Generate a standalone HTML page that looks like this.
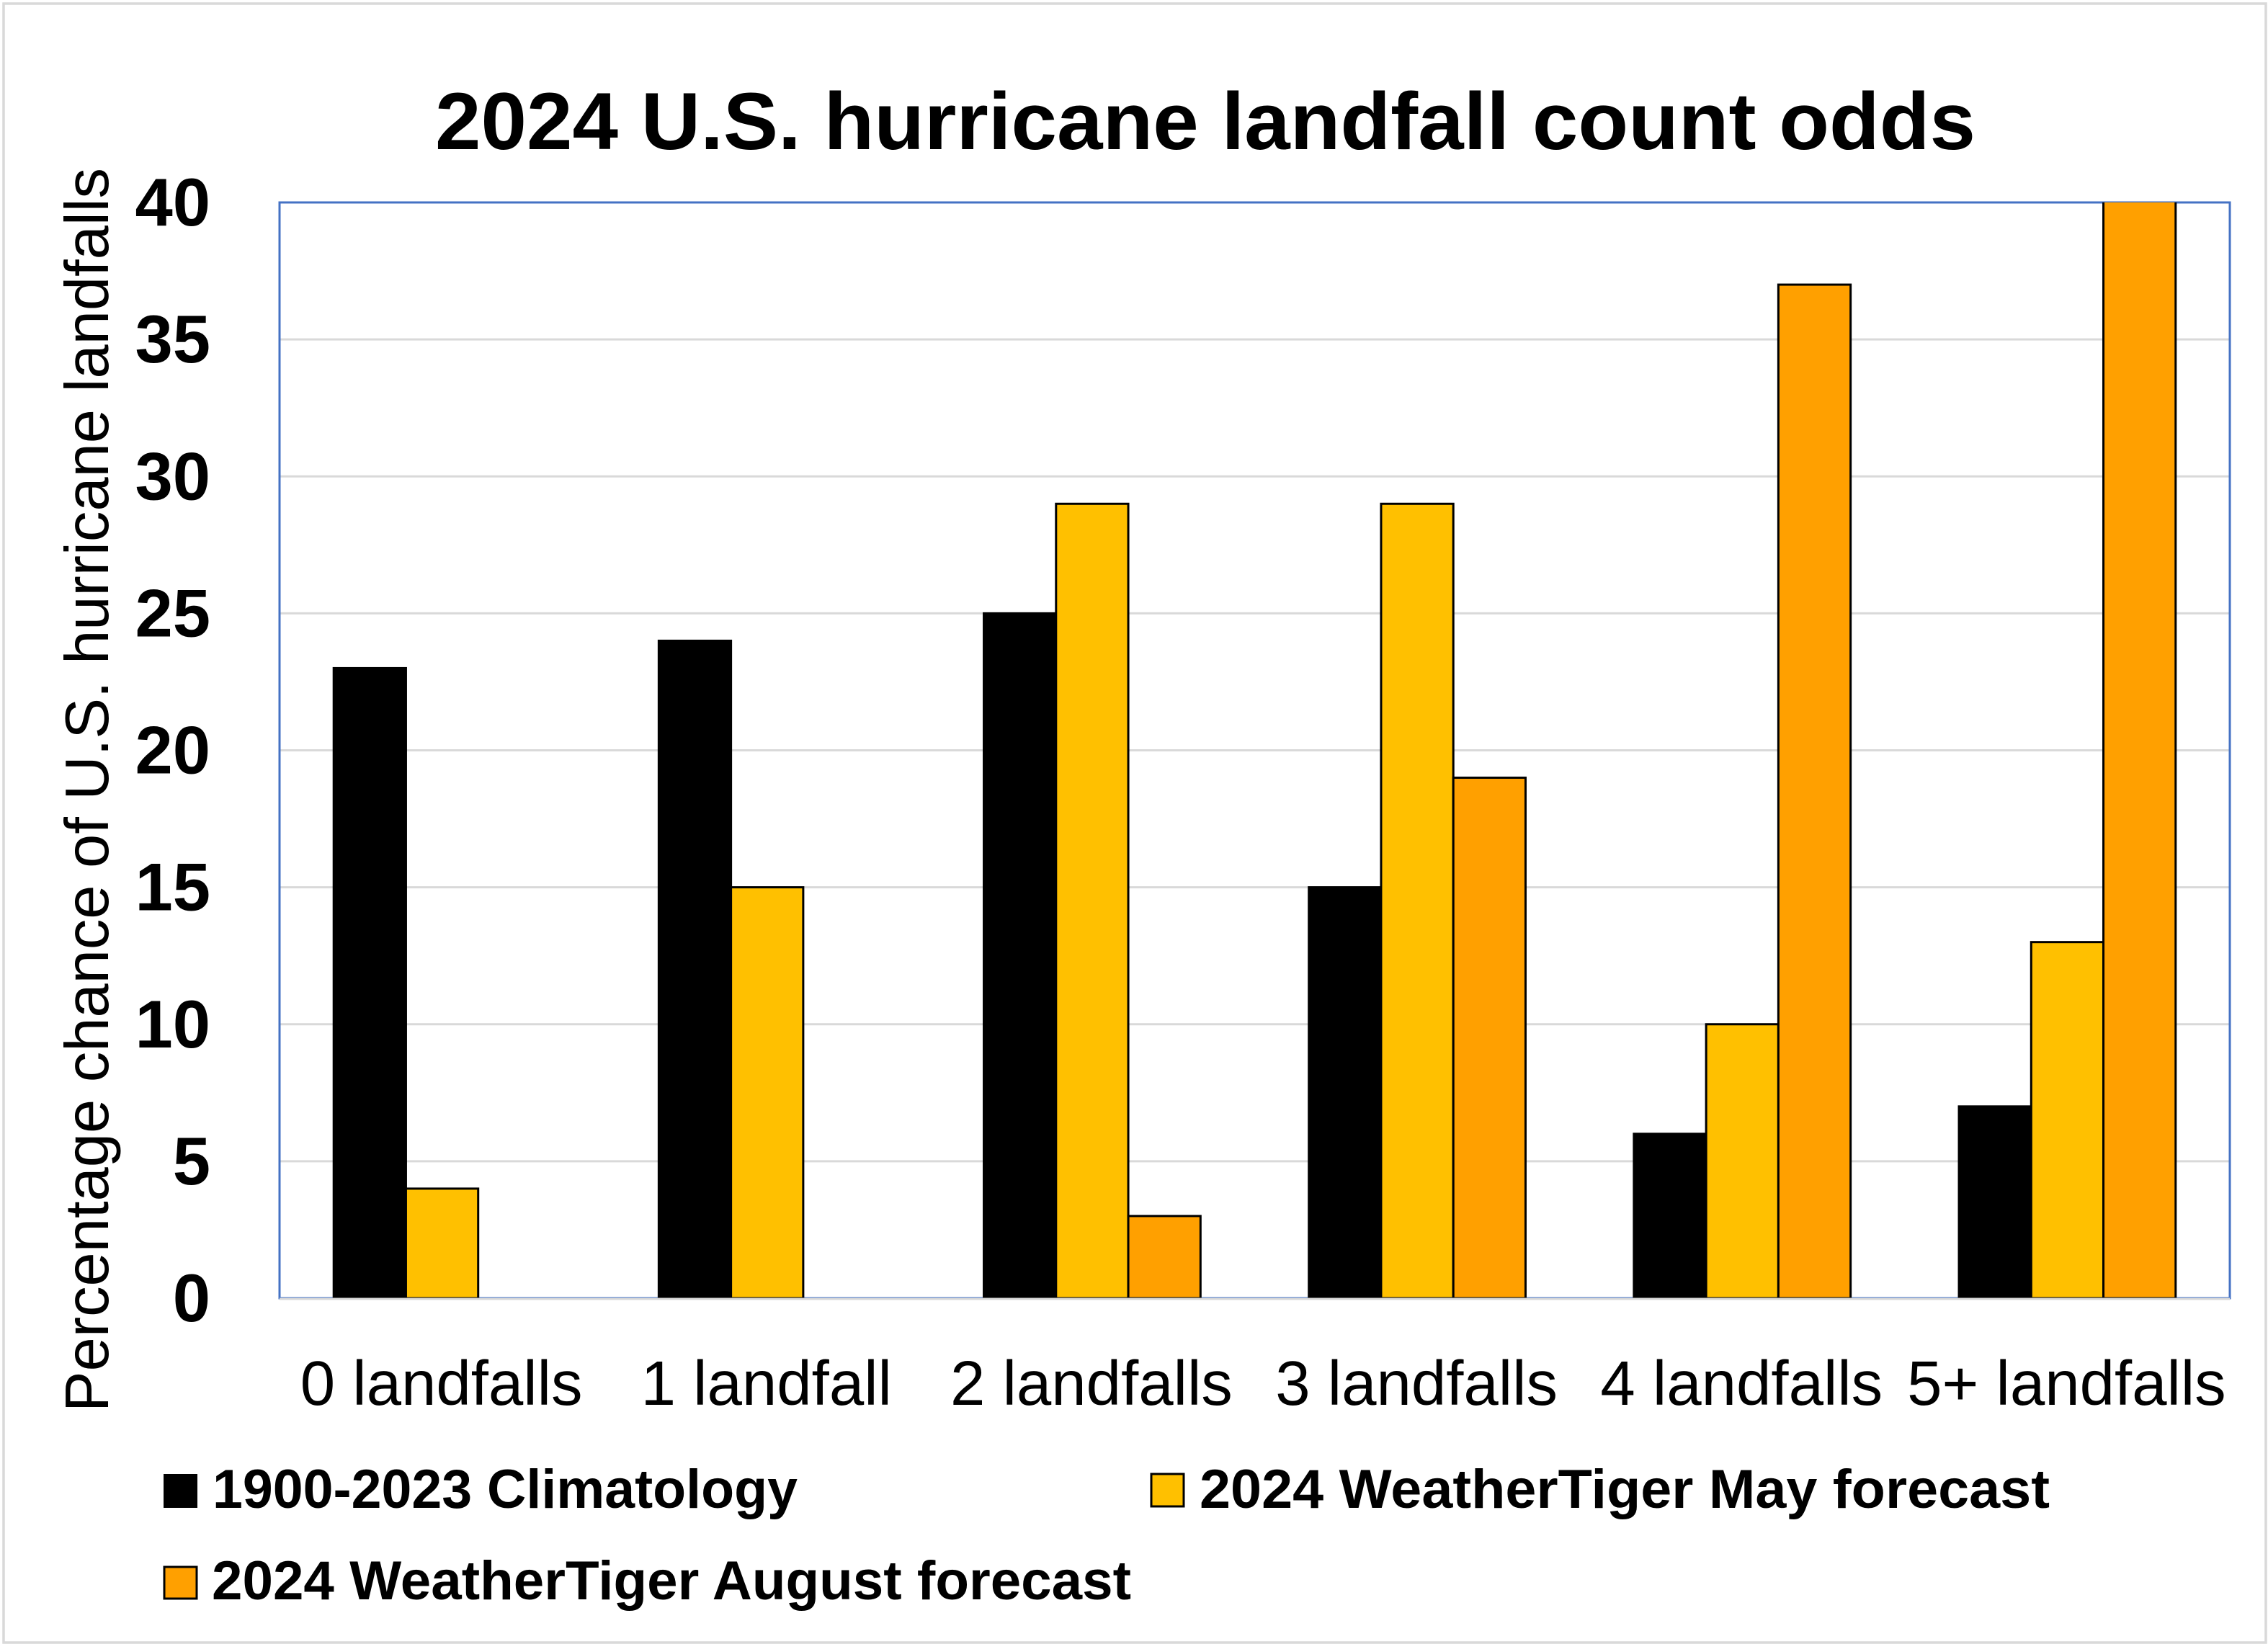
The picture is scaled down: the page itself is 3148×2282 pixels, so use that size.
<!DOCTYPE html>
<html lang="en">
<head>
<meta charset="utf-8">
<title>2024 U.S. hurricane landfall count odds</title>
<style>
html,body{margin:0;padding:0;background:#fff;}
svg{display:block;}
text{font-family:"Liberation Sans",sans-serif;fill:#000;}
</style>
</head>
<body>
<svg id="chart" xmlns="http://www.w3.org/2000/svg" width="3148" height="2282" viewBox="0 0 3148 2282">
  <rect x="0" y="0" width="3148" height="2282" fill="#fff"/>
  <rect x="5" y="5" width="3140" height="2275" fill="#fff" stroke="#d9d9d9" stroke-width="3.5"/>
  <text x="604" y="207" font-size="112" font-weight="700" textLength="2138" lengthAdjust="spacingAndGlyphs">2024 U.S. hurricane landfall count odds</text>
  <text transform="translate(150 1960) rotate(-90)" font-size="85" textLength="1727" lengthAdjust="spacingAndGlyphs">Percentage chance of U.S. hurricane landfalls</text>
  <clipPath id="plot-clip"><rect x="388" y="281" width="2707" height="1521"/></clipPath>
  <g id="grid"></g>
  <rect x="388" y="281" width="2707" height="1521" fill="none" stroke="#4472c4" stroke-width="3"/>
  <g id="bars" clip-path="url(#plot-clip)"></g>
  <line x1="388" y1="1803" x2="3095" y2="1803" stroke="#d9d9d9" stroke-width="3"/>
  <g id="ylabels"></g>
  <g id="xlabels"></g>
  <g>
    <g>
      <rect x="228" y="2047" width="45" height="45" fill="#000" stroke="#000" stroke-width="2"/>
      <text x="295" y="2093" font-size="76" font-weight="700" textLength="812" lengthAdjust="spacingAndGlyphs">1900-2023 Climatology</text>
    </g>
    <g>
      <rect x="1598" y="2046" width="45" height="45" fill="#ffc000" stroke="#000" stroke-width="3"/>
      <text x="1665" y="2093" font-size="76" font-weight="700" textLength="1180" lengthAdjust="spacingAndGlyphs">2024 WeatherTiger May forecast</text>
    </g>
    <g>
      <rect x="228" y="2175" width="45" height="44" fill="#ffa000" stroke="#000" stroke-width="3"/>
      <text x="294" y="2220" font-size="76" font-weight="700" textLength="1276" lengthAdjust="spacingAndGlyphs">2024 WeatherTiger August forecast</text>
    </g>
  </g>
</svg>
<script>
const categories = ["0 landfalls", "1 landfall", "2 landfalls", "3 landfalls", "4 landfalls", "5+ landfalls"];
const climatology = [23, 24, 25, 15, 6, 7];
const mayForecast = [4, 15, 29, 29, 10, 13];
const augustForecast = [0, 0, 3, 19, 37, 41];
const yTicks = [0, 5, 10, 15, 20, 25, 30, 35, 40];

const NS = "http://www.w3.org/2000/svg";
const plot = {left: 388, right: 3095, top: 281, bottom: 1802};
const yMax = 40;
function yScale(v) { return plot.bottom - (v / yMax) * (plot.bottom - plot.top); }
function bandWidth() { return (plot.right - plot.left) / categories.length; }
function barWidth() { return bandWidth() / 4.5; }
function barX(c, s) { return plot.left + c * bandWidth() + barWidth() * 0.75 + s * barWidth(); }

const gridG = document.getElementById("grid");
const yLabelG = document.getElementById("ylabels");
yTicks.forEach(function (t) {
  if (t !== 0 && t !== yMax) {
    const ln = document.createElementNS(NS, "line");
    ln.setAttribute("x1", plot.left);
    ln.setAttribute("x2", plot.right);
    ln.setAttribute("y1", yScale(t));
    ln.setAttribute("y2", yScale(t));
    ln.setAttribute("stroke", "#d9d9d9");
    ln.setAttribute("stroke-width", "3");
    
    
    gridG.appendChild(ln);
  }
  const lb = document.createElementNS(NS, "text");
  lb.setAttribute("x", 292);
  lb.setAttribute("y", yScale(t) + 32);
  lb.setAttribute("text-anchor", "end");
  lb.setAttribute("font-size", "94");
  lb.setAttribute("font-weight", "700");
  lb.textContent = t;
  
  
  yLabelG.appendChild(lb);
});

const xLabelG = document.getElementById("xlabels");
categories.forEach(function (c, i) {
  const lb = document.createElementNS(NS, "text");
  lb.setAttribute("x", plot.left + (i + 0.5) * bandWidth() - 1);
  lb.setAttribute("y", 1950);
  lb.setAttribute("text-anchor", "middle");
  lb.setAttribute("font-size", "87");
  lb.textContent = c;
  
  
  xLabelG.appendChild(lb);
});

const barsG = document.getElementById("bars");
function drawSeries(values, seriesIndex, fill, strokeColor) {
  values.forEach(function (v, c) {
    if (v <= 0) return;
    const r = document.createElementNS(NS, "rect");
    r.setAttribute("x", barX(c, seriesIndex));
    r.setAttribute("y", yScale(v));
    r.setAttribute("width", barWidth());
    r.setAttribute("height", plot.bottom - yScale(v));
    r.setAttribute("fill", fill);
    r.setAttribute("stroke", strokeColor);
    r.setAttribute("stroke-width", "3");
    
    
    barsG.appendChild(r);
  });
}
drawSeries(climatology, 0, "#000000", "#000000");
drawSeries(mayForecast, 1, "#ffc000", "#000000");
drawSeries(augustForecast, 2, "#ffa000", "#000000");
</script>
</body>
</html>
